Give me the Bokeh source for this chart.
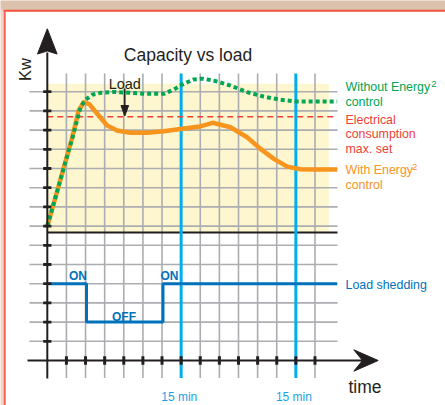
from bokeh.plotting import figure
from bokeh.models import Range1d
from bokeh.core.properties import value
from bokeh.embed import file_html
from bokeh.resources import INLINE

# ---------------- data (grid units) ----------------
time_ticks = list(range(1, 15))
kw_ticks = list(range(1, 15))
window_marks = [7, 13]
window_labels = ["15 min", "15 min"]

with_t = [0, 0.5, 0.85, 1.3, 1.63, 1.9, 2.2, 2.61, 3.13, 3.65, 4.35, 5.22, 6.09, 7.05,
          8.0, 8.65, 9.58, 10.45, 11.15, 11.85, 12.55, 13.24, 14.0, 15.16]
with_kw = [7, 8.75, 10.0, 11.6, 13.0, 13.45, 13.35, 12.85, 12.24, 11.98, 11.86, 11.86, 11.94, 12.07,
           12.19, 12.38, 12.15, 11.63, 11.02, 10.5, 10.1, 9.96, 9.95, 9.95]

without_t = [0, 0.5, 0.85, 1.3, 1.74, 2.0, 2.35, 2.78, 3.48, 4.35, 5.22, 6.1, 6.6, 7.05,
             7.66, 8.1, 8.7, 9.58, 10.45, 11.3, 12.2, 13.07, 14.0, 15.16]
without_kw = [7, 8.75, 10.0, 11.55, 13.2, 13.58, 13.84, 13.94, 13.99, 13.94, 13.89, 13.89, 14.1, 14.37,
              14.64, 14.68, 14.58, 14.32, 13.98, 13.75, 13.58, 13.49, 13.49, 13.49]

max_set_kw = 12.7
max_set_t = [0, 15.16]

shed_t = [0, 2.05, 2.05, 6.05, 6.05, 15.16]
shed_level = [4, 4, 2, 2, 4, 4]
shed_labels = ["ON", "OFF", "ON"]

legend_rows = ["Without Energy", "control", "Electrical", "consumption", "max. set",
               "With Energy", "control", "Load shedding"]

# ---------------- layout ----------------
W, H = 445, 405
X0, SX = 46.8, 19.12
Y0, SY = 360.0, 19.2


def U(ix):
    return (ix - X0) / SX


def V(iy):
    return (Y0 - iy) / SY


FONT = value("Liberation Sans")
INK = "#231F20"
GRID = "#ABADB0"
CYAN = "#00AEEF"
BLUE = "#0072BC"
GREEN = "#00A651"
RED = "#EF4136"
ORANGE = "#F7941D"

p = figure(width=W, height=H, x_range=Range1d(U(0), U(W)), y_range=Range1d(V(H), V(0)),
           x_axis_type=None, y_axis_type=None, toolbar_location=None, output_backend="svg",
           min_border=0, outline_line_color=None, background_fill_color="white",
           border_fill_color="white")

# frame
p.quad(left=U(-1), right=U(446), top=V(-1), bottom=V(9.5), fill_color="#DCC2AC", line_color=None)
p.quad(left=U(-1), right=U(3.2), top=V(9), bottom=V(406), fill_color="#F3D2C8", line_color=None)
p.segment(x0=U(3), y0=V(10.2), x1=U(446), y1=V(10.2), line_color="#F0503C", line_width=2)
p.segment(x0=U(4.2), y0=V(9.5), x1=U(4.2), y1=V(406), line_color="#F0604E", line_width=2)

# yellow zone
p.quad(left=0, right=U(328.3), bottom=V(232), top=V(83.3), fill_color="#FDF6CF", line_color=None)

# grid
vt = [t for t in time_ticks if t not in window_marks]
p.segment(x0=vt, y0=[V(377.5)] * len(vt), x1=vt, y1=[V(73)] * len(vt),
          line_color=GRID, line_width=1.6)
p.segment(x0=[U(29)] * len(kw_ticks), y0=kw_ticks, x1=[U(337)] * len(kw_ticks), y1=kw_ticks,
          line_color=GRID, line_width=1.6)

# separator
p.segment(x0=0, y0=V(232), x1=U(337), y1=V(232), line_color=INK, line_width=1.8)

# 15 min windows
p.segment(x0=window_marks, y0=[V(377.5)] * 2, x1=window_marks, y1=[V(73)] * 2,
          line_color=CYAN, line_width=3)

# max set
p.line(max_set_t, [max_set_kw] * 2, line_color=RED, line_width=1.5, line_dash="6 4")

# curves
p.line(with_t, with_kw, line_color=ORANGE, line_width=4.5, line_join="round")
p.line(without_t, without_kw, line_color=GREEN, line_width=4, line_dash="4 3")
p.line(shed_t, shed_level, line_color=BLUE, line_width=3)

# axes
p.segment(x0=0, y0=V(378), x1=0, y1=V(52), line_color=INK, line_width=2)
p.patch([0, U(37), 0, U(56.6)], [V(28.3), V(53.5), V(50.5), V(53.5)], color=INK)
p.segment(x0=U(27), y0=0, x1=U(362), y1=0, line_color=INK, line_width=2)
p.patch([U(377.7), U(353.3), U(362), U(353.3)], [0, V(349.3), 0, V(370.7)], color=INK)

# ticks
p.segment(x0=[U(42.7)] * 14, y0=kw_ticks, x1=[U(50.9)] * 14, y1=kw_ticks, line_color=INK, line_width=2.8)
p.segment(x0=time_ticks, y0=[V(355.7)] * 14, x1=time_ticks, y1=[V(364.3)] * 14, line_color=INK, line_width=3)

# Load arrow
p.segment(x0=U(124.3), y0=V(88), x1=U(124.3), y1=V(106), line_color=INK, line_width=1.5)
p.patch([U(120.5), U(128.1), U(124.3)], [V(105), V(105), V(115.5)], color=INK)


# texts
def txt(x, y, s, size, color, align="left", style="normal", angle=0.0):
    p.text(x=[U(x)], y=[V(y)], text=[s], text_font=FONT, text_font_size=size,
           text_color=color, text_align=align, text_baseline="alphabetic",
           text_font_style=style, angle=angle)


txt(187.5, 54, "Capacity vs load", "17.5px", INK, "center")
txt(124.3, 83.3, "Load", "14.5px", INK, "center")
txt(24, 69, "Kw", "16.5px", INK, "center", angle=1.5708)
txt(364.5, 386.7, "time", "17.5px", INK, "center")
for m, lab in zip(window_marks, window_labels):
    p.text(x=[m - 0.1], y=[V(396.5)], text=[lab], text_font=FONT, text_font_size="12px",
           text_color="#1BA3E3", text_align="center", text_baseline="alphabetic")

txt(77.5, 275.7, shed_labels[0], "12px", BLUE, "center", "bold")
txt(123.5, 316.3, shed_labels[1], "12px", BLUE, "center", "bold")
txt(169, 275.7, shed_labels[2], "12px", BLUE, "center", "bold")

rows_y = [86.5, 101.7, 119, 133.3, 148.7, 169.5, 184.5, 284]
rows_c = [GREEN, GREEN, RED, RED, RED, ORANGE, ORANGE, BLUE]
for s, yy, cc in zip(legend_rows, rows_y, rows_c):
    txt(345, yy, s, "12.4px", cc)
txt(430.8, 83.2, "2", "9.5px", GREEN)
txt(411.5, 166.2, "2", "9.5px", ORANGE)

open("out.html", "w").write(file_html(p, INLINE))
